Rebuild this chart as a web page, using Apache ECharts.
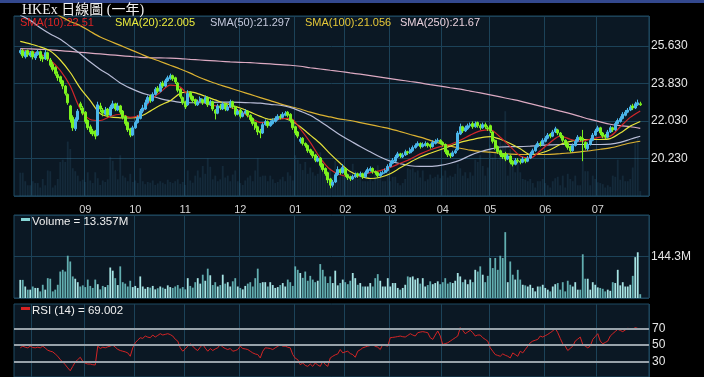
<!DOCTYPE html>
<html>
<head>
<meta charset="utf-8">
<title>HKEx 日線圖 (一年)</title>
<script src="https://cdn.jsdelivr.net/npm/echarts@6.0.0/dist/echarts.min.js"></script>
<style>
    html, body { margin: 0; padding: 0; background: #000; }
    #chart { width: 704px; height: 377px; }
</style>
</head>
<body>
<div id="chart"></div>
<script>
(function (window) {
    'use strict';

    // daily bars, oldest first (late Jul .. late Jul next year)
    var opens = [
        25.30, 25.40, 25.10, 25.40, 25.15, 25.35, 25.05, 25.20, 25.35, 25.10,
        25.00, 25.30, 24.95, 24.75, 24.60, 24.25, 24.15, 23.95, 23.70, 23.30,
        22.75, 22.20, 21.65, 22.10, 22.85, 22.65, 22.45, 22.05, 21.75, 21.55,
        21.55, 21.35, 22.75, 22.55, 22.35, 22.60, 22.30, 22.65, 22.85, 22.55,
        22.75, 22.50, 22.25, 21.95, 21.65, 21.35, 21.70, 21.95, 22.15, 22.50,
        22.60, 22.90, 23.20, 23.00, 23.30, 23.60, 23.45, 23.85, 23.70, 23.95,
        24.05, 24.20, 24.10, 23.85, 23.55, 23.15, 22.95, 22.80, 23.40, 23.20,
        23.05, 22.80, 22.95, 23.05, 22.90, 23.15, 22.80, 22.95, 22.55, 22.40,
        22.75, 22.60, 22.85, 22.55, 22.70, 22.95, 22.70, 22.35, 22.55, 22.25,
        22.40, 22.50, 22.30, 22.15, 21.95, 21.75, 21.55, 21.45, 21.85, 22.00,
        21.80, 21.90, 22.00, 22.10, 22.25, 22.20, 22.30, 22.45, 22.35, 22.05,
        21.75, 21.50, 21.05, 21.20, 20.95, 20.85, 20.65, 20.55, 20.40, 20.10,
        20.25, 19.95, 19.75, 19.55, 19.25, 18.95, 19.10, 19.45, 19.70, 19.55,
        19.75, 19.45, 19.35, 19.25, 19.35, 19.50, 19.40, 19.50, 19.35, 19.55,
        19.65, 19.75, 19.60, 19.55, 19.40, 19.50, 19.55, 19.65, 19.85, 20.00,
        20.10, 20.30, 20.45, 20.30, 20.40, 20.55, 20.50, 20.60, 20.75, 20.85,
        20.95, 20.80, 20.85, 20.95, 20.90, 20.80, 20.95, 21.05, 21.10, 21.00,
        20.90, 20.60, 20.45, 20.35, 20.50, 20.65, 21.40, 21.75, 21.55, 21.65,
        21.80, 21.90, 21.75, 21.95, 21.80, 21.70, 21.85, 21.70, 21.80, 21.50,
        21.10, 20.80, 20.60, 20.45, 20.45, 20.20, 20.35, 20.10, 19.95, 20.15,
        20.10, 20.05, 20.20, 20.10, 20.25, 20.45, 20.60, 20.80, 20.95, 20.90,
        21.05, 21.20, 21.40, 21.30, 21.50, 21.60, 21.45, 21.30, 21.10, 20.95,
        20.80, 20.60, 20.85, 21.05, 21.25, 21.20, 21.00, 20.70, 20.90, 21.10,
        21.35, 21.55, 21.70, 21.45, 21.35, 21.25, 21.50, 21.70, 21.60, 21.90,
        22.00, 22.15, 22.30, 22.45, 22.55, 22.75, 22.65, 22.80, 22.85
    ];
    var closes = [
        25.40, 25.15, 25.35, 25.20, 25.30, 25.10, 25.25, 25.35, 25.05, 25.00,
        25.30, 25.00, 24.70, 24.50, 24.30, 24.10, 23.90, 23.70, 23.35, 22.90,
        22.10, 21.70, 22.10, 22.50, 22.70, 22.40, 22.00, 21.70, 21.50, 21.40,
        21.30, 22.80, 22.60, 22.40, 22.55, 22.30, 22.70, 22.85, 22.60, 22.75,
        22.45, 22.20, 21.90, 21.60, 21.35, 21.70, 21.95, 22.20, 22.50, 22.65,
        22.90, 23.15, 23.00, 23.30, 23.55, 23.45, 23.80, 23.70, 23.95, 24.10,
        24.20, 24.05, 23.90, 23.50, 23.20, 22.90, 22.70, 23.35, 23.20, 23.00,
        22.85, 22.95, 23.10, 22.90, 23.15, 22.80, 22.95, 22.60, 22.40, 22.75,
        22.65, 22.85, 22.60, 22.70, 22.95, 22.70, 22.35, 22.50, 22.25, 22.40,
        22.50, 22.30, 22.10, 21.90, 21.70, 21.50, 21.45, 21.85, 22.00, 21.80,
        21.95, 22.05, 22.15, 22.25, 22.20, 22.35, 22.40, 22.30, 22.05, 21.70,
        21.45, 21.30, 21.15, 20.95, 20.85, 20.60, 20.50, 20.35, 20.15, 20.25,
        19.90, 19.70, 19.50, 19.20, 18.95, 19.10, 19.45, 19.70, 19.55, 19.80,
        19.45, 19.30, 19.25, 19.35, 19.45, 19.40, 19.50, 19.35, 19.55, 19.70,
        19.75, 19.60, 19.55, 19.40, 19.50, 19.55, 19.65, 19.85, 20.00, 20.15,
        20.30, 20.45, 20.35, 20.40, 20.55, 20.50, 20.65, 20.75, 20.85, 20.95,
        20.80, 20.90, 20.95, 20.85, 20.80, 21.00, 21.05, 21.10, 21.00, 20.90,
        20.55, 20.40, 20.35, 20.50, 20.60, 21.45, 21.75, 21.55, 21.70, 21.80,
        21.85, 21.75, 21.90, 21.80, 21.70, 21.85, 21.75, 21.65, 21.55, 21.05,
        20.75, 20.55, 20.40, 20.30, 20.20, 20.35, 20.05, 19.95, 20.15, 20.10,
        20.05, 20.20, 20.10, 20.25, 20.45, 20.60, 20.80, 20.95, 20.90, 21.10,
        21.20, 21.35, 21.30, 21.50, 21.65, 21.45, 21.30, 21.10, 20.90, 20.75,
        20.60, 20.85, 21.05, 21.25, 21.15, 21.10, 20.75, 20.90, 21.10, 21.35,
        21.55, 21.70, 21.45, 21.30, 21.25, 21.50, 21.70, 21.60, 21.90, 22.05,
        22.15, 22.35, 22.45, 22.55, 22.70, 22.65, 22.85, 22.90, 22.80
    ];
    var lows = [
        25.22, 25.05, 25.02, 25.10, 25.08, 24.98, 24.95, 25.15, 24.90, 24.85,
        24.95, 24.90, 24.60, 24.40, 24.20, 23.95, 23.80, 23.55, 23.25, 22.80,
        21.95, 21.55, 21.55, 22.00, 22.55, 22.30, 21.90, 21.60, 21.40, 21.30,
        21.15, 21.30, 22.45, 22.25, 22.30, 22.20, 22.25, 22.60, 22.50, 22.50,
        22.35, 22.10, 21.80, 21.50, 21.25, 21.30, 21.65, 21.90, 22.10, 22.40,
        22.55, 22.85, 22.90, 22.95, 23.25, 23.35, 23.40, 23.60, 23.65, 23.90,
        24.00, 23.95, 23.80, 23.40, 23.10, 22.80, 22.60, 22.75, 23.05, 22.90,
        22.75, 22.75, 22.90, 22.80, 22.85, 22.70, 22.75, 22.50, 22.10, 22.35,
        22.55, 22.55, 22.50, 22.50, 22.65, 22.60, 22.25, 22.30, 22.15, 22.20,
        22.35, 22.20, 22.00, 21.80, 21.60, 21.35, 21.20, 21.40, 21.80, 21.70,
        21.75, 21.85, 21.95, 22.05, 22.10, 22.15, 22.25, 22.20, 21.95, 21.60,
        21.35, 21.20, 20.95, 20.85, 20.75, 20.50, 20.40, 20.25, 20.05, 20.05,
        19.80, 19.60, 19.40, 19.05, 18.80, 18.85, 19.05, 19.40, 19.45, 19.50,
        19.35, 19.20, 19.15, 19.20, 19.30, 19.30, 19.35, 19.25, 19.30, 19.50,
        19.60, 19.50, 19.45, 19.30, 19.35, 19.45, 19.50, 19.60, 19.80, 19.95,
        20.05, 20.25, 20.25, 20.25, 20.35, 20.40, 20.45, 20.55, 20.70, 20.80,
        20.70, 20.75, 20.80, 20.75, 20.70, 20.75, 20.90, 21.00, 20.90, 20.80,
        20.45, 20.30, 20.25, 20.30, 20.45, 20.60, 21.35, 21.45, 21.50, 21.60,
        21.70, 21.65, 21.70, 21.70, 21.60, 21.65, 21.65, 21.55, 21.45, 20.95,
        20.65, 20.45, 20.30, 20.20, 20.10, 20.15, 19.95, 19.85, 19.90, 20.00,
        19.95, 20.00, 20.00, 20.05, 20.20, 20.40, 20.55, 20.75, 20.80, 20.85,
        21.00, 21.15, 21.20, 21.25, 21.45, 21.35, 21.20, 21.00, 20.80, 20.65,
        20.50, 20.55, 20.80, 21.00, 21.05, 20.10, 20.65, 20.60, 20.85, 21.05,
        21.30, 21.50, 21.35, 21.20, 21.15, 21.20, 21.45, 21.50, 21.55, 21.85,
        21.95, 22.10, 22.25, 22.40, 22.50, 22.55, 22.60, 22.75, 22.75
    ];
    var highs = [
        25.50, 25.48, 25.42, 25.45, 25.38, 25.40, 25.32, 25.45, 25.40, 25.18,
        25.45, 25.35, 25.05, 24.85, 24.65, 24.40, 24.20, 24.00, 23.75, 23.35,
        22.80, 22.30, 22.20, 22.60, 22.95, 22.75, 22.50, 22.10, 21.85, 21.65,
        21.60, 22.95, 22.90, 22.65, 22.70, 22.65, 22.80, 23.00, 22.90, 22.90,
        22.80, 22.55, 22.30, 22.00, 21.70, 21.80, 22.05, 22.30, 22.60, 22.80,
        23.05, 23.25, 23.30, 23.40, 23.65, 23.70, 23.90, 23.95, 24.05, 24.20,
        24.30, 24.25, 24.15, 23.90, 23.60, 23.20, 23.00, 23.50, 23.45, 23.25,
        23.10, 23.05, 23.20, 23.10, 23.25, 23.20, 23.05, 23.00, 22.60, 22.85,
        22.85, 22.95, 22.90, 22.80, 23.05, 23.00, 22.75, 22.60, 22.60, 22.50,
        22.60, 22.55, 22.35, 22.20, 22.00, 21.80, 21.65, 21.95, 22.10, 22.05,
        22.05, 22.15, 22.25, 22.35, 22.35, 22.45, 22.50, 22.50, 22.40, 22.10,
        21.80, 21.55, 21.25, 21.25, 21.00, 20.90, 20.70, 20.60, 20.45, 20.35,
        20.30, 20.00, 19.80, 19.60, 19.30, 19.20, 19.55, 19.85, 19.75, 19.95,
        19.80, 19.50, 19.40, 19.45, 19.55, 19.55, 19.60, 19.55, 19.65, 19.80,
        19.85, 19.80, 19.65, 19.60, 19.60, 19.65, 19.75, 19.95, 20.10, 20.25,
        20.40, 20.55, 20.50, 20.50, 20.65, 20.60, 20.75, 20.85, 20.95, 21.05,
        21.00, 21.00, 21.05, 21.00, 20.95, 21.10, 21.15, 21.20, 21.15, 21.05,
        20.95, 20.65, 20.50, 20.60, 20.70, 21.55, 21.90, 21.80, 21.80, 21.90,
        21.95, 22.00, 22.00, 22.00, 21.90, 21.95, 21.95, 21.80, 21.85, 21.55,
        21.15, 20.85, 20.65, 20.50, 20.55, 20.45, 20.40, 20.15, 20.25, 20.25,
        20.20, 20.30, 20.25, 20.35, 20.55, 20.70, 20.90, 21.05, 21.05, 21.20,
        21.30, 21.45, 21.45, 21.60, 21.75, 21.65, 21.50, 21.35, 21.15, 21.00,
        20.85, 20.95, 21.15, 21.35, 21.30, 21.60, 21.05, 21.00, 21.20, 21.45,
        21.65, 21.80, 21.75, 21.50, 21.40, 21.60, 21.80, 21.75, 22.00, 22.15,
        22.25, 22.45, 22.55, 22.65, 22.80, 22.85, 22.95, 23.05, 22.95
    ];
    // turnover, millions of shares
    var volumes = [
        63, 63, 40, 29, 29, 40, 35, 35, 23, 46,
        29, 69, 67, 23, 29, 46, 92, 98, 92, 147,
        127, 75, 67, 55, 40, 44, 38, 64, 42, 35,
        64, 48, 30, 42, 38, 45, 106, 95, 69, 45,
        110, 55, 50, 40, 60, 38, 42, 35, 75, 40,
        32, 38, 36, 42, 30, 34, 40, 36, 32, 44,
        38, 35, 40, 45, 33, 38, 30, 69, 42, 36,
        55, 69, 50, 81, 60, 102, 79, 45, 55, 40,
        45, 81, 50, 55, 40, 58, 69, 40, 35, 30,
        42, 50, 55, 40, 69, 102, 52, 55, 55, 40,
        55, 45, 35, 38, 45, 52, 40, 64, 55, 42,
        110, 98, 87, 70, 92, 60, 77, 64, 55, 60,
        118, 98, 75, 52, 75, 52, 95, 44, 52, 64,
        55, 48, 60, 87, 69, 46, 52, 40, 40, 40,
        52, 40, 69, 83, 60, 40, 40, 69, 40, 52,
        52, 35, 29, 35, 46, 75, 72, 75, 64, 69,
        50, 69, 40, 45, 58, 48, 52, 58, 48, 55,
        69, 50, 55, 52, 60, 87, 75, 55, 64, 48,
        64, 55, 98, 92, 110, 81, 55, 77, 139, 104,
        139, 98, 147, 139, 229, 55, 127, 81, 64, 98,
        64, 46, 44, 40, 46, 35, 23, 40, 40, 46,
        35, 29, 23, 40, 48, 52, 29, 55, 23, 60,
        46, 40, 55, 29, 29, 152, 67, 67, 29, 55,
        46, 37, 35, 32, 23, 29, 25, 55, 52, 98,
        44, 55, 40, 40, 46, 77, 142, 159, 13.357
    ];
    var rsi14 = [
        46.8, 48.8, 47.5, 46.8, 48.8, 47.2, 46.8, 47.6, 46.8, 48.8,
        46.5, 44.0, 42.8, 42.0, 39.5, 36.8, 32.8, 30.0, 26.8, 23.0,
        19.6, 24.8, 30.0, 32.8, 35.6, 30.8, 28.5, 27.6, 27.6, 26.8,
        26.5, 48.8, 46.0, 47.6, 46.8, 48.0, 48.8, 50.0, 47.6, 45.0,
        43.6, 42.8, 42.0, 40.8, 36.8, 46.8, 52.8, 56.0, 58.8, 58.0,
        60.8, 59.5, 58.8, 62.0, 59.6, 61.5, 63.6, 62.0, 62.8, 63.6,
        62.5, 60.8, 57.0, 54.8, 46.8, 42.8, 45.5, 48.8, 51.6, 48.8,
        45.5, 43.6, 47.6, 50.8, 46.5, 42.8, 46.0, 43.6, 45.5, 46.8,
        50.8, 47.6, 46.0, 44.8, 46.0, 42.8, 43.5, 44.8, 48.8, 46.0,
        45.5, 44.8, 42.8, 40.8, 39.5, 38.8, 34.8, 42.8, 46.8, 46.5,
        46.0, 44.8, 46.8, 48.5, 50.8, 48.8, 48.8, 47.5, 46.8, 38.8,
        34.5, 32.8, 26.8, 28.8, 26.0, 24.8, 27.6, 24.8, 28.8, 26.5,
        24.8, 30.8, 27.0, 24.8, 34.8, 36.8, 38.5, 39.6, 44.8, 40.8,
        42.0, 42.8, 40.0, 38.8, 35.6, 42.8, 44.5, 46.8, 47.8, 48.8,
        49.5, 50.8, 48.5, 47.6, 44.8, 50.8, 49.5, 48.8, 58.8, 59.2,
        59.6, 60.2, 60.8, 60.0, 59.6, 61.5, 63.6, 62.0, 60.8, 64.8,
        65.5, 66.0, 65.4, 64.8, 58.8, 56.8, 62.0, 66.8, 60.8, 50.8,
        51.8, 52.8, 54.8, 56.8, 58.8, 60.8, 70.8, 67.6, 63.6, 65.6,
        67.6, 64.8, 60.8, 62.0, 62.0, 58.8, 56.8, 54.8, 46.8, 42.8,
        38.8, 37.8, 36.8, 39.6, 38.0, 36.8, 34.8, 40.8, 38.8, 36.8,
        42.8, 40.8, 44.8, 48.8, 52.8, 54.8, 55.8, 56.8, 60.8, 59.6,
        61.2, 62.8, 64.8, 66.8, 70.0, 64.8, 58.0, 51.6, 48.8, 43.6,
        46.2, 48.8, 54.8, 57.2, 59.6, 50.8, 48.8, 46.8, 48.8, 56.8,
        60.2, 63.6, 54.8, 51.6, 53.2, 54.8, 60.8, 63.6, 66.2, 68.8,
        67.4, 66.0, 68.0, 70.0, 69.4, 68.8, 70.8, 69.8, 69.002
    ];

    var smaDays = [];
    for (var k = 0; k <= 248; k += 4) smaDays.push(k);
    var sma10 = [
        25.45, 25.35, 25.25, 24.95, 24.45, 23.70, 22.60, 22.10, 22.05, 22.25,
        22.35, 22.20, 22.35, 23.00, 23.40, 23.75, 23.65, 23.15, 22.95, 22.80,
        22.72, 22.68, 22.50, 22.20, 21.95, 21.95, 22.12, 22.15, 21.65, 21.00,
        20.25, 19.70, 19.45, 19.35, 19.40, 19.55, 19.65, 19.80, 20.00, 20.20,
        20.45, 20.65, 20.80, 20.90, 21.10, 21.35, 21.55, 21.60, 21.25, 20.80,
        20.35, 20.25, 20.60, 21.00, 21.30, 21.15, 21.05, 21.15, 21.25, 21.30,
        21.75, 22.20, 22.51
    ];
    var sma20 = [
        25.84, 25.72, 25.58, 25.38, 24.95, 24.35, 23.60, 23.00, 22.38, 22.22,
        22.18, 22.17, 22.25, 22.50, 22.78, 23.00, 23.35, 23.42, 23.30, 23.12,
        22.95, 22.80, 22.65, 22.45, 22.25, 22.10, 22.17, 22.05, 21.75, 21.35,
        20.95, 20.45, 20.00, 19.60, 19.38, 19.27, 19.33, 19.50, 19.78, 20.05,
        20.30, 20.48, 20.65, 20.82, 21.00, 21.12, 21.22, 21.28, 21.15, 20.95,
        20.70, 20.42, 20.48, 20.65, 20.90, 21.05, 21.14, 21.14, 21.14, 21.18,
        21.45, 21.78, 22.005
    ];
    var sma50 = [
        27.10, 26.85, 26.50, 26.20, 25.95, 25.60, 25.25, 24.85, 24.50, 24.20,
        23.85, 23.60, 23.40, 23.25, 23.10, 23.00, 22.92, 22.90, 22.90, 22.92,
        22.93, 22.93, 22.92, 22.90, 22.88, 22.82, 22.78, 22.68, 22.50, 22.30,
        22.00, 21.68, 21.35, 21.08, 20.80, 20.55, 20.30, 20.10, 19.98, 19.88,
        19.85, 19.85, 19.90, 20.00, 20.15, 20.38, 20.55, 20.68, 20.78, 20.80,
        20.80, 20.82, 20.85, 20.88, 20.90, 20.90, 20.90, 20.90, 20.90, 20.92,
        21.00, 21.15, 21.297
    ];
    var sma100 = [
        28.00, 27.80, 27.55, 27.30, 27.05, 26.80, 26.60, 26.32, 26.05, 25.85,
        25.65, 25.45, 25.25, 25.05, 24.88, 24.70, 24.52, 24.32, 24.10, 23.92,
        23.75, 23.60, 23.45, 23.30, 23.15, 23.00, 22.85, 22.72, 22.60, 22.45,
        22.32, 22.22, 22.12, 22.05, 21.95, 21.85, 21.75, 21.65, 21.52, 21.38,
        21.25, 21.10, 20.95, 20.82, 20.72, 20.63, 20.57, 20.53, 20.48, 20.44,
        20.42, 20.42, 20.42, 20.43, 20.46, 20.50, 20.55, 20.60, 20.67, 20.74,
        20.85, 20.97, 21.056
    ];
    var sma250 = [
        25.50, 25.48, 25.46, 25.44, 25.40, 25.36, 25.32, 25.28, 25.24, 25.20,
        25.16, 25.12, 25.08, 25.06, 25.05, 25.04, 25.02, 24.98, 24.95, 24.92,
        24.89, 24.86, 24.84, 24.82, 24.79, 24.76, 24.73, 24.70, 24.65, 24.58,
        24.52, 24.46, 24.40, 24.33, 24.27, 24.20, 24.13, 24.06, 23.99, 23.92,
        23.85, 23.77, 23.70, 23.62, 23.55, 23.46, 23.37, 23.28, 23.18, 23.08,
        22.98, 22.86, 22.74, 22.62, 22.50, 22.38, 22.24, 22.10, 21.98, 21.87,
        21.80, 21.75, 21.67
    ];

    // first trading day of each month, and its label
    var monthDays = [5, 26, 46, 66, 88, 110, 130, 148, 169, 188, 210, 231];
    var monthLabels = ['', '09', '10', '11', '12', '01', '02', '03', '04', '05', '06', '07'];
    var rsiLevels = [70, 50, 30];

    var slotCount = 254;   // x slots across the panel
    var firstSlot = 2;     // two empty slots before the first bar
    var upColor = '#4bb6ea';
    var downColor = '#7cf21e';
    var gridColor = '#1c4258';
    var labelFont = '"Liberation Sans", Arial, sans-serif';

    var slots = [];
    for (var s = 0; s < slotCount; s++) slots.push(String(s));

    function toSlots(values) {
        var arr = [];
        for (var i = 0; i < slotCount; i++) arr.push(null);
        for (var j = 0; j < values.length; j++) arr[j + firstSlot] = values[j];
        return arr;
    }

    function smaSlots(values) {
        var arr = [];
        for (var i = 0; i < slotCount; i++) arr.push(null);
        for (var j = 0; j < smaDays.length; j++) arr[smaDays[j] + firstSlot] = values[j];
        return arr;
    }

    var candleData = [];
    var volData = [];
    var bgVolData = [];
    for (var i = 0; i < slotCount; i++) {
        var d = i - firstSlot;
        if (d < 0 || d >= closes.length) {
            candleData.push('-');
            volData.push('-');
            bgVolData.push('-');
            continue;
        }
        var up = closes[d] >= opens[d];
        candleData.push([opens[d], closes[d], lows[d], highs[d]]);
        volData.push({ value: volumes[d], itemStyle: { color: up ? '#a6e4e4' : '#62aeb0' } });
        bgVolData.push(volumes[d]);
    }

    var monthSlots = monthDays.map(function (m) { return m + firstSlot; });
    function isMonthSlot(idx) {
        return monthSlots.indexOf(idx) >= 0;
    }
    function monthName(val) {
        var p = monthSlots.indexOf(Number(val));
        return p >= 0 ? monthLabels[p] : '';
    }

    function makeXAxis(gridIndex, showLabels) {
        return {
            type: 'category',
            gridIndex: gridIndex,
            data: slots,
            boundaryGap: true,
            axisLine: { show: false },
            axisTick: { show: false },
            axisLabel: {
                show: showLabels,
                interval: isMonthSlot,
                formatter: monthName,
                color: '#d6d6d6',
                fontSize: 11,
                fontFamily: labelFont,
                margin: 8
            },
            splitLine: { show: true, interval: isMonthSlot, lineStyle: { color: gridColor, width: 1 } }
        };
    }

    function smaSeries(name, values, color) {
        return {
            name: name,
            type: 'line',
            xAxisIndex: 0,
            yAxisIndex: 0,
            data: smaSlots(values),
            connectNulls: true,
            showSymbol: false,
            symbol: 'none',
            smooth: 0.3,
            lineStyle: { color: color, width: 1.2 },
            z: 4
        };
    }

    function legendText(x, y, text, color, size) {
        return {
            type: 'text',
            left: x,
            top: y,
            z: 10,
            style: { text: text, fill: color, font: (size || 11) + 'px ' + labelFont }
        };
    }

    var gridBox = {
        show: true,
        left: 14,
        right: 55,
        backgroundColor: '#0b1824',
        borderColor: '#1f4a62',
        borderWidth: 1,
        outerBoundsMode: 'none'
    };

    var chart = echarts.init(document.getElementById('chart'), null, { renderer: 'canvas' });

    var option = {
        backgroundColor: '#000000',
        animation: false,
        grid: [
            Object.assign({}, gridBox, { top: 16, height: 180 }),
            Object.assign({}, gridBox, { top: 215, height: 83 }),
            Object.assign({}, gridBox, { top: 304, height: 73 })
        ],
        xAxis: [makeXAxis(0, true), makeXAxis(1, false), makeXAxis(2, false)],
        yAxis: [
            {
                type: 'value',
                gridIndex: 0,
                position: 'right',
                min: 18.43,
                max: 27.06,
                interval: 1.8,
                axisLine: { show: false },
                axisTick: { show: false },
                axisLabel: {
                    showMinLabel: false,
                    showMaxLabel: false,
                    color: '#e6e6e6',
                    fontSize: 12,
                    fontFamily: labelFont,
                    margin: 2,
                    formatter: function (v) { return v.toFixed(3); }
                },
                splitLine: { lineStyle: { color: gridColor, width: 1 } }
            },
            {
                type: 'value',
                gridIndex: 0,
                min: 0,
                max: 486,
                show: false,
                splitLine: { show: false }
            },
            {
                type: 'value',
                gridIndex: 1,
                position: 'right',
                min: 0,
                max: 288.6,
                interval: 144.3,
                axisLine: { show: false },
                axisTick: { show: false },
                axisLabel: {
                    showMinLabel: false,
                    showMaxLabel: false,
                    color: '#e6e6e6',
                    fontSize: 12,
                    fontFamily: labelFont,
                    margin: 2,
                    formatter: function (v) { return v.toFixed(1) + 'M'; }
                },
                splitLine: { lineStyle: { color: gridColor, width: 1 } }
            },
            {
                type: 'value',
                gridIndex: 2,
                position: 'right',
                min: 12.2,
                max: 98.8,
                axisLine: { show: false },
                axisTick: { show: false },
                axisLabel: { show: false },
                splitLine: { show: false }
            }
        ],
        graphic: [
            { type: 'rect', left: 0, top: 0, z: 10, shape: { width: 704, height: 3 }, style: { fill: '#33488e' } },
            {
                type: 'text', left: 22, top: 3, z: 10,
                style: { text: 'HKEx 日線圖 (一年)', fill: '#f2f2f2', font: '14px "Liberation Serif", "Noto Sans CJK TC", serif' }
            },
            legendText(20, 17, 'SMA(10):22.51', '#e02424'),
            legendText(115, 17, 'SMA(20):22.005', '#ecec3c'),
            legendText(210, 17, 'SMA(50):21.297', '#c4c8dc'),
            legendText(305, 17, 'SMA(100):21.056', '#e6c838'),
            legendText(400, 17, 'SMA(250):21.67', '#e8d0dc'),
            { type: 'rect', left: 21, top: 218, z: 10, shape: { width: 9, height: 3 }, style: { fill: '#86d6d6' } },
            legendText(32, 216, 'Volume = 13.357M', '#f0f0f0', 11.5),
            { type: 'rect', left: 21, top: 307, z: 10, shape: { width: 9, height: 3 }, style: { fill: '#d42222' } },
            legendText(32, 305, 'RSI (14) = 69.002', '#f0f0f0', 11.5)
        ],
        series: [
            {
                name: 'bgVolume',
                type: 'bar',
                xAxisIndex: 0,
                yAxisIndex: 1,
                data: bgVolData,
                barWidth: 1.8,
                silent: true,
                itemStyle: { color: 'rgba(60, 120, 160, 0.18)' },
                z: 1
            },
            smaSeries('SMA250', sma250, '#dcaac2'),
            smaSeries('SMA100', sma100, '#dcb232'),
            smaSeries('SMA50', sma50, '#b8bcd6'),
            smaSeries('SMA20', sma20, '#e6e23a'),
            {
                name: 'HKEx',
                type: 'candlestick',
                xAxisIndex: 0,
                yAxisIndex: 0,
                data: candleData,
                barWidth: 2.3,
                itemStyle: {
                    color: upColor,
                    color0: downColor,
                    borderColor: upColor,
                    borderColor0: downColor,
                    borderWidth: 1
                },
                z: 5
            },
            smaSeries('SMA10', sma10, '#d0262a'),
            {
                name: 'Volume',
                type: 'bar',
                xAxisIndex: 1,
                yAxisIndex: 2,
                data: volData,
                barWidth: 1.8
            },
            {
                name: 'levels',
                type: 'line',
                xAxisIndex: 2,
                yAxisIndex: 3,
                data: [],
                z: 1,
                markLine: {
                    silent: true,
                    symbol: 'none',
                    animation: false,
                    lineStyle: { color: '#98a2aa', width: 2, type: 'solid' },
                    label: {
                        show: true,
                        position: 'end',
                        distance: 3,
                        formatter: '{c}',
                        color: '#e6e6e6',
                        fontSize: 12,
                        fontFamily: labelFont
                    },
                    data: rsiLevels.map(function (v) { return { yAxis: v }; })
                }
            },
            {
                name: 'RSI',
                type: 'line',
                xAxisIndex: 2,
                yAxisIndex: 3,
                data: toSlots(rsi14),
                showSymbol: false,
                symbol: 'none',
                lineStyle: { color: '#d42424', width: 1 },
                z: 3
            }
        ]
    };

    chart.setOption(option);
})(window);
</script>
</body>
</html>
